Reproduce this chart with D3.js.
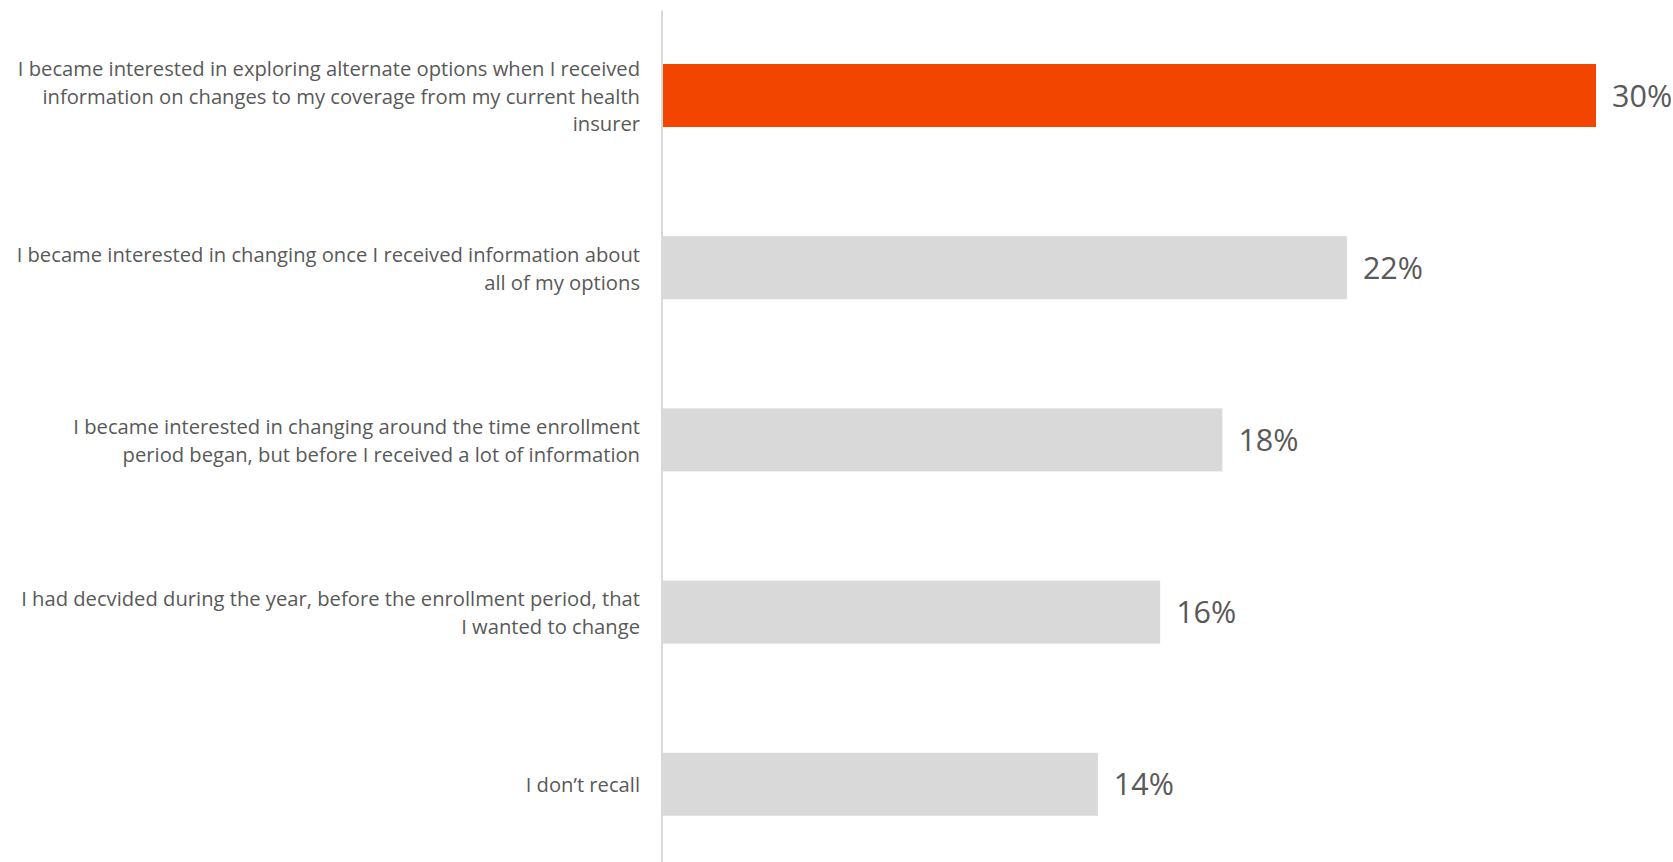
<!DOCTYPE html>
<html>
<head>
<meta charset="utf-8">
<script src="https://cdn.jsdelivr.net/npm/d3@7"></script>
<style>
  html, body { margin: 0; padding: 0; background: #fff; }
  svg { display: block; }
  text { font-family: "Open Sans", "Noto Sans", sans-serif; fill: #595959; }
</style>
</head>
<body>
<svg id="chart" width="1673" height="862"></svg>
<script>
// Survey responses: when did the respondent become interested in changing coverage
const categories = [
  "I became interested in exploring alternate options when I received\ninformation on changes to my coverage from my current health\ninsurer",
  "I became interested in changing once I received information about\nall of my options",
  "I became interested in changing around the time enrollment\nperiod began, but before I received a lot of information",
  "I had decvided during the year, before the enrollment period, that\nI wanted to change",
  "I don’t recall"
];
const values = [30, 22, 18, 16, 14];
const highlighted = [true, false, false, false, false];

const width = 1673, height = 862;
const axisX = 662;
const svg = d3.select("#chart");

const x = d3.scaleLinear().domain([0, 30]).range([axisX, 1596]);
const y = d3.scaleBand()
  .domain(d3.range(categories.length))
  .range([9.4, 870.4])
  .paddingInner(0.634)
  .paddingOuter(0.317);

// Bars
svg.append("g").selectAll("rect")
  .data(values)
  .join("rect")
  .attr("x", x(0) + 1)
  .attr("y", (d, i) => y(i))
  .attr("width", d => x(d) - x(0) - 1)
  .attr("height", y.bandwidth())
  .attr("fill", (d, i) => highlighted[i] ? "#F24500" : "#D9D9D9");

// Vertical baseline
svg.append("line")
  .attr("x1", axisX).attr("x2", axisX)
  .attr("y1", 10.5).attr("y2", height)
  .attr("stroke", "#D9D9D9")
  .attr("stroke-width", 2);

// Category labels, right-aligned, centred on each bar
const lineH = 27.7;
const labels = svg.append("g").selectAll("text")
  .data(categories)
  .join("text")
  .attr("text-anchor", "end")
  .attr("font-size", 20.2)
  .attr("dominant-baseline", "central");
labels.each(function(d, i) {
  const lines = d.split("\n");
  const cy = y(i) + y.bandwidth() / 2;
  const t = d3.select(this);
  lines.forEach((ln, k) => {
    t.append("tspan")
      .attr("x", 640)
      .attr("y", cy + (k - (lines.length - 1) / 2) * lineH)
      .text(ln);
  });
});

// Value labels
svg.append("g").selectAll("text")
  .data(values)
  .join("text")
  .attr("x", d => x(d) + 16)
  .attr("y", (d, i) => y(i) + y.bandwidth() / 2 - 1)
  .attr("dominant-baseline", "central")
  .attr("font-size", 30.5)
  .text(d => d + "%");
</script>
</body>
</html>
